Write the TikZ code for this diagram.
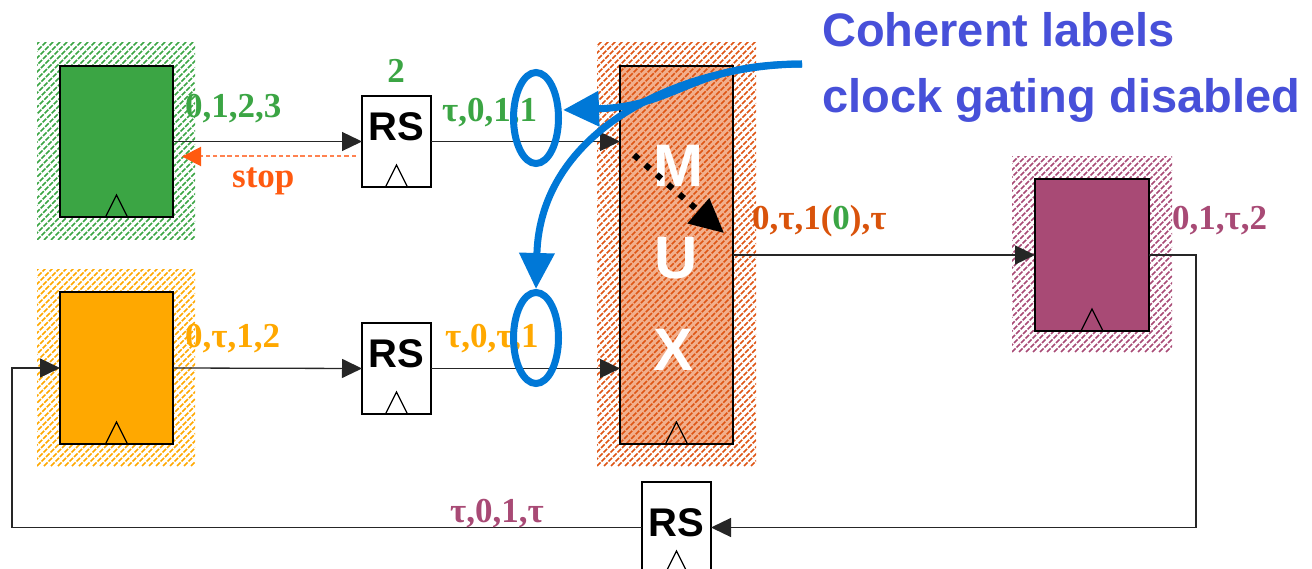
\documentclass[tikz,border=0pt]{standalone}
\usepackage{fontspec}
\setmainfont{Liberation Serif}
\newfontfamily\arialf{Liberation Sans}
\usetikzlibrary{arrows.meta,calc,shapes.geometric}

\definecolor{cgreen}{RGB}{59,165,68}
\definecolor{corange}{RGB}{255,168,0}
\definecolor{cpurple}{RGB}{168,74,117}
\definecolor{csalmon}{RGB}{242,175,140}
\definecolor{cmuxh}{RGB}{222,85,20}
\definecolor{cmuxl}{RGB}{217,83,11}
\definecolor{cstop}{RGB}{255,90,16}
\definecolor{cstopl}{RGB}{255,130,80}
\definecolor{cblue}{RGB}{0,120,215}
\definecolor{ctext}{RGB}{71,80,217}

\newcommand{\hatchbox}[5]{%
  \begin{scope}
    \clip (#1,#2) rectangle (#3,#4);
    \foreach \k in {-441,-434,...,180}{
      \draw[#5, line width=1.7pt, dash pattern=on 5pt off 1.4pt] ({#1+\k},#4) -- ++(460,-460);
    }
  \end{scope}}

\tikzset{
  reg/.style={draw=black, line width=1.2pt, inner sep=0pt, outer sep=0pt, anchor=north west},
  rsbox/.style={draw=black, line width=1.2pt, fill=white, inner sep=0pt, outer sep=0pt,
    minimum width=69pt, minimum height=91pt, anchor=north west},
  rstext/.style={font=\arialf\bfseries\fontsize{40}{44}\selectfont, inner sep=0pt},
  muxl/.style={font=\arialf\bfseries\fontsize{60}{64}\selectfont, text=white, inner sep=0pt},
  lab/.style={font=\bfseries\fontsize{35}{40}\selectfont, anchor=base west, inner sep=0pt},
  bluet/.style={font=\arialf\bfseries\fontsize{47}{52}\selectfont, text=ctext, anchor=base west, inner sep=0pt},
  wire/.style={draw=black!85, line width=1.3pt},
  arr/.style={-{Triangle[length=20pt,width=19pt]}},
  stopw/.style={draw=cstopl, line width=2pt, dash pattern=on 4.5pt off 2.8pt,
    -{Triangle[length=19pt,width=19pt,color=cstop]}},
  ell/.style={draw=cblue, line width=7pt, ellipse, inner sep=0pt, minimum width=45pt, minimum height=91pt},
  bluearr/.style={draw=cblue, line width=7pt, -{Triangle[length=36pt,width=34pt]}},
  dotarr/.style={draw=black, line width=6pt, dash pattern=on 6pt off 9pt, -{Triangle[length=34pt,width=32pt]}}
}

\begin{document}
\begin{tikzpicture}[x=1pt,y=-1pt]
\useasboundingbox (0,0) rectangle (1312,569);
\clip (0,0) rectangle (1312,569);

% hatched areas
\hatchbox{37}{43}{195}{240}{cgreen}
\hatchbox{37}{270}{195}{466}{corange}
\hatchbox{1012}{157}{1172}{352}{cpurple}
\fill[csalmon] (620,66) rectangle (733,444);
\hatchbox{597}{43}{756}{466}{cmuxh}

% registers
\node[reg, fill=cgreen, minimum width=113pt, minimum height=151pt] (g) at (60,66) {};
\node[reg, fill=corange, minimum width=113pt, minimum height=152pt] (o) at (60,292) {};
\node[reg, fill=cpurple, minimum width=114pt, minimum height=152pt] (p) at (1035,179) {};
\node[reg, minimum width=113pt, minimum height=378pt] (mux) at (620,66) {};

\node[rsbox] (rs1) at (362,96) {};
\node[rsbox] (rs2) at (362,323) {};
\node[rsbox] (rs3) at (642,482) {};

% clock triangles
\foreach \n in {g,o,p,mux,rs1,rs2,rs3}{
  \draw[line width=1.2pt] ($(\n.south)+(-11,0)$) -- ++(11,-22) -- ++(11,22);
}

% texts in boxes
\node[rstext] (rs1t) at ($(rs1.center)+(0,-15)$) {RS};
\node[rstext] (rs2t) at ($(rs2.center)+(0,-15)$) {RS};
\node[rstext] (rs3t) at ($(rs3.center)+(0,-5)$) {RS};
\node[muxl] (m1) at (678,166) {M};
\node[muxl] (m2) at (676,258) {U};
\node[muxl] (m3) at (674,350) {X};

% connectors
\draw[wire, arr] (g.east) -- (rs1.west);
\draw[stopw] ($(rs1.west)+(-6,15)$) -- ($(g.east)+(9,15)$);
\draw[wire, arr] (rs1.east) -- (rs1.east -| mux.west);
\draw[wire, arr] (o.east) -- (rs2.west);
\draw[wire, arr] (rs2.east) -- (rs2.east -| mux.west);
\draw[wire, arr] (mux.east) -- (p.west);
\draw[wire, arr] (p.east) -- ++(47,0) |- (rs3.east);
\draw[wire, arr] (rs3.west) -- ++(-630,0) |- (o.west);

% dotted arrow in MUX
\coordinate (d1) at (634,155);
\coordinate (d2) at (724,233);
\draw[dotarr] (d1) -- (d2);

% labels
\node[lab, text=cgreen] (l1) at (185,118) {0,1,2,3};
\node[lab, text=cgreen, anchor=base] (l2) at (396,83) {2};
\node[lab, text=cgreen] (l3) at (442,122) {τ,0,1,1};
\node[lab, text=cstop] (l4) at (232,188) {stop};
\node[lab, text=cmuxl] (l5) at (752,230) {0,τ,1(\textcolor{cgreen}{0}),τ};
\node[lab, text=cpurple] (l6) at (1172,230) {0,1,τ,2};
\node[lab, text=corange] (l7) at (185,348) {0,τ,1,2};
\node[lab, text=corange] (l8) at (445,348) {τ,0,τ,1};
\node[lab, text=cpurple] (l9) at (450,522) {τ,0,1,τ};

\node[bluet] (t1) at (822,47) {Coherent labels};
\node[bluet] (t2) at (822,113) {clock gating disabled};

% blue annotations
\node[ell] (e1) at (536,118) {};
\node[ell] (e2) at (536,338) {};
\coordinate (cs) at (802,64);
\draw[bluearr] (cs) .. controls (690,64) and (680,106) .. ($(e1.east)+(1,-8)$);
\draw[bluearr] (cs) .. controls (680,65) and (540,130) .. (e2.north);
\end{tikzpicture}
\end{document}
